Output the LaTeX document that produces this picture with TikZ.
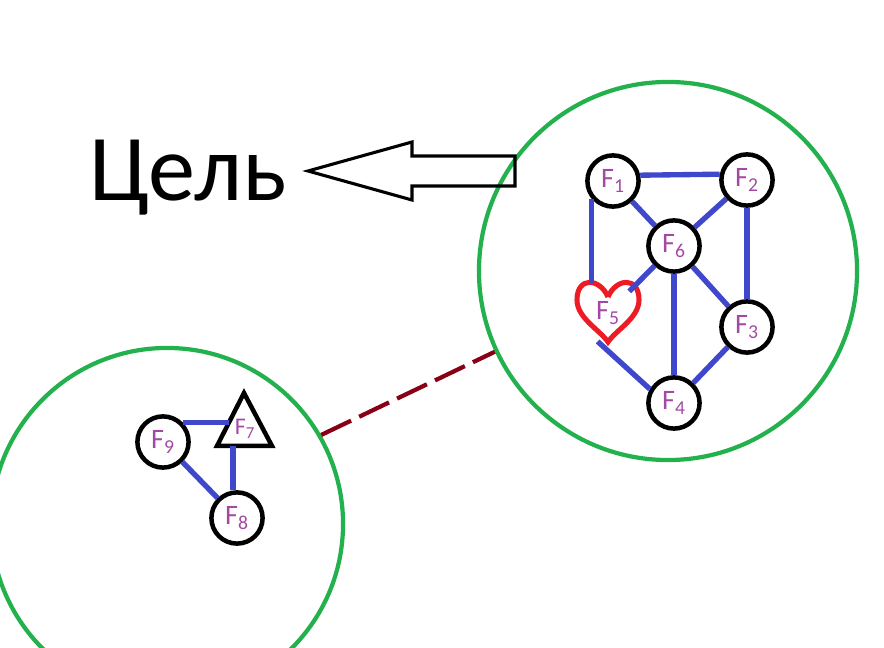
\documentclass[tikz,border=0pt]{standalone}
\usepackage{fontspec}
\setmainfont{Carlito}
\usepackage{xcolor}
\usetikzlibrary{calc}
\usetikzlibrary{positioning}

\definecolor{paintblue}{HTML}{3F48CC}
\definecolor{paintgreen}{HTML}{22B14C}
\definecolor{paintred}{HTML}{ED1C24}
\definecolor{paintdarkred}{HTML}{880015}
\definecolor{paintpurple}{HTML}{A349A4}

\begin{document}
\begin{tikzpicture}[x=0.025cm,y=-0.025cm,
  vertex/.style={circle, draw=black, line width=3.2pt, minimum size=1.28cm,
    inner sep=0pt, text=paintpurple, font=\fontsize{20}{20}\selectfont},
  mark5/.style={circle, draw=none, minimum size=1.5cm, inner sep=0pt,
    text=paintpurple, font=\fontsize{20}{20}\selectfont},
  edge/.style={paintblue, line width=3.8pt},
  cluster/.style={circle, draw=paintgreen, line width=3.0pt, inner sep=0pt},
  bond/.style={paintdarkred, line width=3.0pt, dash pattern=on 23.5pt off 6.4pt},
  hollow/.style={black, line width=2.2pt, line join=miter},
  ]

  % page frame
  \clip (0,0) rectangle (884,648);

  % the two groups
  \node[cluster, minimum size=8.8cm]  (left)  at (167,524) {};
  \node[cluster, minimum size=9.45cm] (right) at (668,271) {};

  % goal text and hollow arrow
  \node[anchor=base west, inner sep=0pt, font=\fontsize{67}{67}\selectfont] (goal) at (89,201) {Цель};
  \coordinate (tip) at (308,171);
  \draw[hollow] (tip) -- (412,142) -- (412,156) -- (515,156) -- (515,186)
    -- (412,186) -- (412,200) -- cycle;

  % right group
  \node[vertex] (F1) at (613,181) {F\textsubscript{1}};
  \node[vertex] (F2) at (747,180) {F\textsubscript{2}};
  \node[vertex] (F6) at (674,246) {F\textsubscript{6}};
  \node[vertex] (F3) at (747,327) {F\textsubscript{3}};
  \node[vertex] (F4) at (674,403) {F\textsubscript{4}};
  \node[mark5]  (F5) at (608,313) {F\textsubscript{5}};

  % heart round F5
  \draw[paintred, line width=3.6pt]
    (608,297) .. controls (600,278) and (577,276) .. (577,300)
              .. controls (577,318) and (600,330) .. (608,342)
              .. controls (616,330) and (639,318) .. (639,300)
              .. controls (639,276) and (616,278) .. (608,297);

  \draw[edge] (F1.12) -- (F2.168);
  \draw[edge] (F1) -- (F6);
  \draw[edge] (F2) -- (F6);
  \draw[edge] (F1.219) -- (F1.219 |- F5.north);
  \draw[edge] (F6) -- (F5);
  \draw[edge] (F6) -- (F4);
  \draw[edge] (F6) -- (F3);
  \draw[edge] (F2) -- (F3);
  \draw[edge] (F5.250) -- (F4.150);
  \draw[edge] (F3) -- (F4);

  % left group
  \node[vertex] (F9) at (163,442) {F\textsubscript{9}};
  \node[vertex] (F8) at (237,518) {F\textsubscript{8}};
  \coordinate (T7a) at (244,393);
  \coordinate (T7l) at (217,446);
  \coordinate (T7r) at (272,446);
  \draw[black, line width=3.2pt, line join=miter] (T7a) -- (T7l) -- (T7r) -- cycle;
  \node[inner sep=0pt, text=paintpurple, font=\fontsize{17}{17}\selectfont] (F7) at (245,429) {F\textsubscript{7}};
  \coordinate (T7side) at ($(T7a)!0.55!(T7l)$);
  \coordinate (T7base) at (233,446);

  \draw[edge] (F9.45) -- (F9.45 -| T7side);
  \draw[edge] (T7base) -- (T7base |- F8.north);
  \draw[edge] (F9) -- (F8);

  % link between the groups
  \draw[bond] (left.30) -- (right.205);

\end{tikzpicture}
\end{document}
